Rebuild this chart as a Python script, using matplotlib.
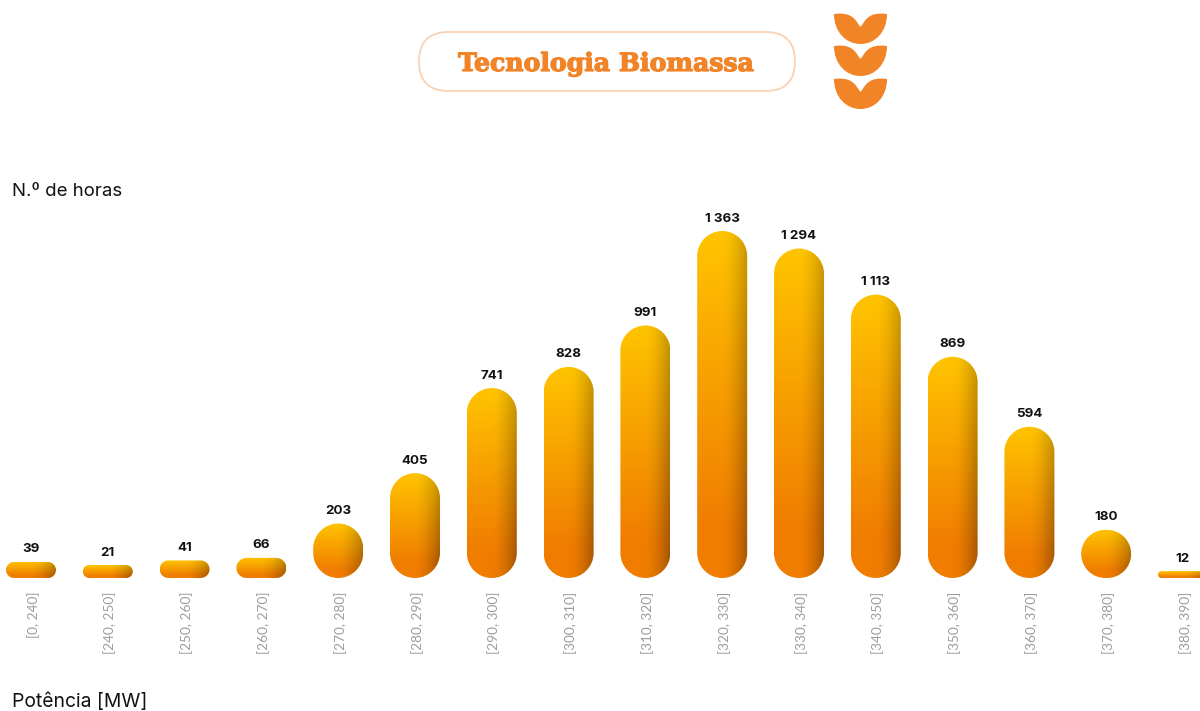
import numpy as np
import matplotlib
matplotlib.use("Agg")
import matplotlib.pyplot as plt
import matplotlib.patheffects as pe
from matplotlib.patches import FancyBboxPatch, PathPatch
from matplotlib.path import Path
from matplotlib.transforms import ScaledTranslation

categories = ["[0, 240]", "[240, 250]", "[250, 260]", "[260, 270]", "[270, 280]", "[280, 290]",
              "[290, 300]", "[300, 310]", "[310, 320]", "[320, 330]", "[330, 340]", "[340, 350]",
              "[350, 360]", "[360, 370]", "[370, 380]", "[380, 390]"]
labels = ["39", "21", "41", "66", "203", "405", "741", "828", "991", "1 363", "1 294", "1 113",
          "869", "594", "180", "12"]
# Bar heights (small bars are drawn slightly taller than their label)
hours = [63, 51, 69, 79, 214, 412, 746, 829, 992, 1363, 1294, 1113, 869, 594, 189, 27]

W, H = 1200, 711
ORANGE = "#F28428"
plt.rcParams["font.family"] = ["Inter", "DejaVu Sans"]

fig = plt.figure(figsize=(W / 100, H / 100), dpi=100, facecolor="white")

# overlay in pixel coordinates for header decorations
bg = fig.add_axes([0, 0, 1, 1])
bg.set_xlim(0, W); bg.set_ylim(H, 0); bg.axis("off")

bg.add_patch(FancyBboxPatch((419, 32), 376, 59, boxstyle="round,pad=0,rounding_size=29.5",
                            fc="white", ec="#FAD4B6", lw=1.4))
bg.text(606, 64, "Tecnologia Biomassa", color=ORANGE, fontsize=18.1, fontweight="bold",
        family="DejaVu Serif", ha="center", va="center",
        path_effects=[pe.withStroke(linewidth=0.9, foreground=ORANGE)])

def leaf(y0):
    x0, x1, xm = 834, 887, 860.5
    v = [(x0, y0), (x0 + 18, y0 - 2.5), (xm - 5, y0 + 6), (xm - 1.5, y0 + 11),
         (xm - 0.5, y0 + 13), (xm + 0.5, y0 + 13), (xm + 1.5, y0 + 11),
         (xm + 5, y0 + 6), (x1 - 18, y0 - 2.5), (x1, y0),
         (x1, y0 + 18), (x1 - 12, y0 + 30), (xm, y0 + 30),
         (x0 + 12, y0 + 30), (x0, y0 + 18), (x0, y0)]
    c = [Path.MOVETO] + [Path.CURVE4] * 15
    return Path(v, c)

for y0 in (14, 46, 79):
    bg.add_patch(PathPatch(leaf(y0), fc=ORANGE, ec="none"))

bg.text(12, 192, "N.º de horas", fontsize=13.4, color="#111111", va="center", ha="left")
bg.text(12, 702, "Potência [MW]", fontsize=13.9, color="#111111", va="center", ha="left")

# data axes
base_px, top_px = 578, 200
ax = fig.add_axes([0, (H - base_px) / H, 1, (base_px - top_px) / H])
ax.patch.set_alpha(0)
step = 76.8
first = 31
xlim = (-first / step, (W - first) / step)
px_per_unit = (578 - 231) / 1363
ylim = (0, (base_px - top_px) / px_per_unit)
ax.set_xlim(*xlim); ax.set_ylim(*ylim)
for s in ax.spines.values():
    s.set_visible(False)
ax.set_yticks([])
x = np.arange(len(categories))
ax.set_xticks(x, categories, rotation=90, fontsize=9.8, color="#9A9EA2",
              family=["Lato", "DejaVu Sans"], fontweight="normal")
ax.tick_params(axis="x", length=0, pad=10)
shift = ScaledTranslation(1.5 / 72, 0, fig.dpi_scale_trans)
for tl in ax.get_xticklabels():
    tl.set_transform(tl.get_transform() + shift)

bw = 50 / step
aspect = step / px_per_unit  # data-y units per data-x unit for equal pixels

def pill(xl, xr, top, rx, ry):
    """Rounded-top-and-bottom bar outline with true circular corners."""
    k = 0.5523
    v = [(xl, ry),
         (xl, top - ry),
         (xl, top - ry + k * ry), (xl + rx - k * rx, top), (xl + rx, top),
         (xr - rx, top),
         (xr - rx + k * rx, top), (xr, top - ry + k * ry), (xr, top - ry),
         (xr, ry),
         (xr, ry - k * ry), (xr - rx + k * rx, 0), (xr - rx, 0),
         (xl + rx, 0),
         (xl + rx - k * rx, 0), (xl, ry - k * ry), (xl, ry),
         (xl, ry)]
    c = [Path.MOVETO, Path.LINETO, Path.CURVE4, Path.CURVE4, Path.CURVE4, Path.LINETO,
         Path.CURVE4, Path.CURVE4, Path.CURVE4, Path.LINETO, Path.CURVE4, Path.CURVE4,
         Path.CURVE4, Path.LINETO, Path.CURVE4, Path.CURVE4, Path.CURVE4, Path.CLOSEPOLY]
    return Path(v, c)

def gradient(n=200, m=120):
    yy, xx = np.mgrid[0:1:n * 1j, 0:1:m * 1j]
    t = np.clip(yy / 0.85, 0, 1)[..., None]
    top = np.array([255, 196, 0]) / 255
    bot = np.array([240, 125, 0]) / 255
    rgb = top * (1 - t) + bot * t
    d = np.clip((xx - 0.5) / 0.5, 0, 1) ** 1.6
    return rgb * (1 - (0.22 + 0.1 * yy) * d)[..., None]

img = gradient()
for xi, h, lab in zip(x, hours, labels):
    rx = min(bw / 2, h / aspect / 2)
    patch = PathPatch(pill(xi - bw / 2, xi + bw / 2, h, rx, rx * aspect), fc="none", ec="none")
    ax.add_patch(patch)
    im = ax.imshow(img, extent=(xi - bw / 2, xi + bw / 2, 0, h), aspect="auto",
                   origin="upper", interpolation="bilinear", zorder=2)
    im.set_clip_path(patch)
    ax.annotate(lab, (xi, h), xytext=(0, 9.0), textcoords="offset points", ha="center",
                va="center", fontsize=9.6, fontweight="bold", color="#111111", zorder=3)
ax.set_xlim(*xlim); ax.set_ylim(*ylim)

fig.savefig("out.png", dpi=100, facecolor="white")
